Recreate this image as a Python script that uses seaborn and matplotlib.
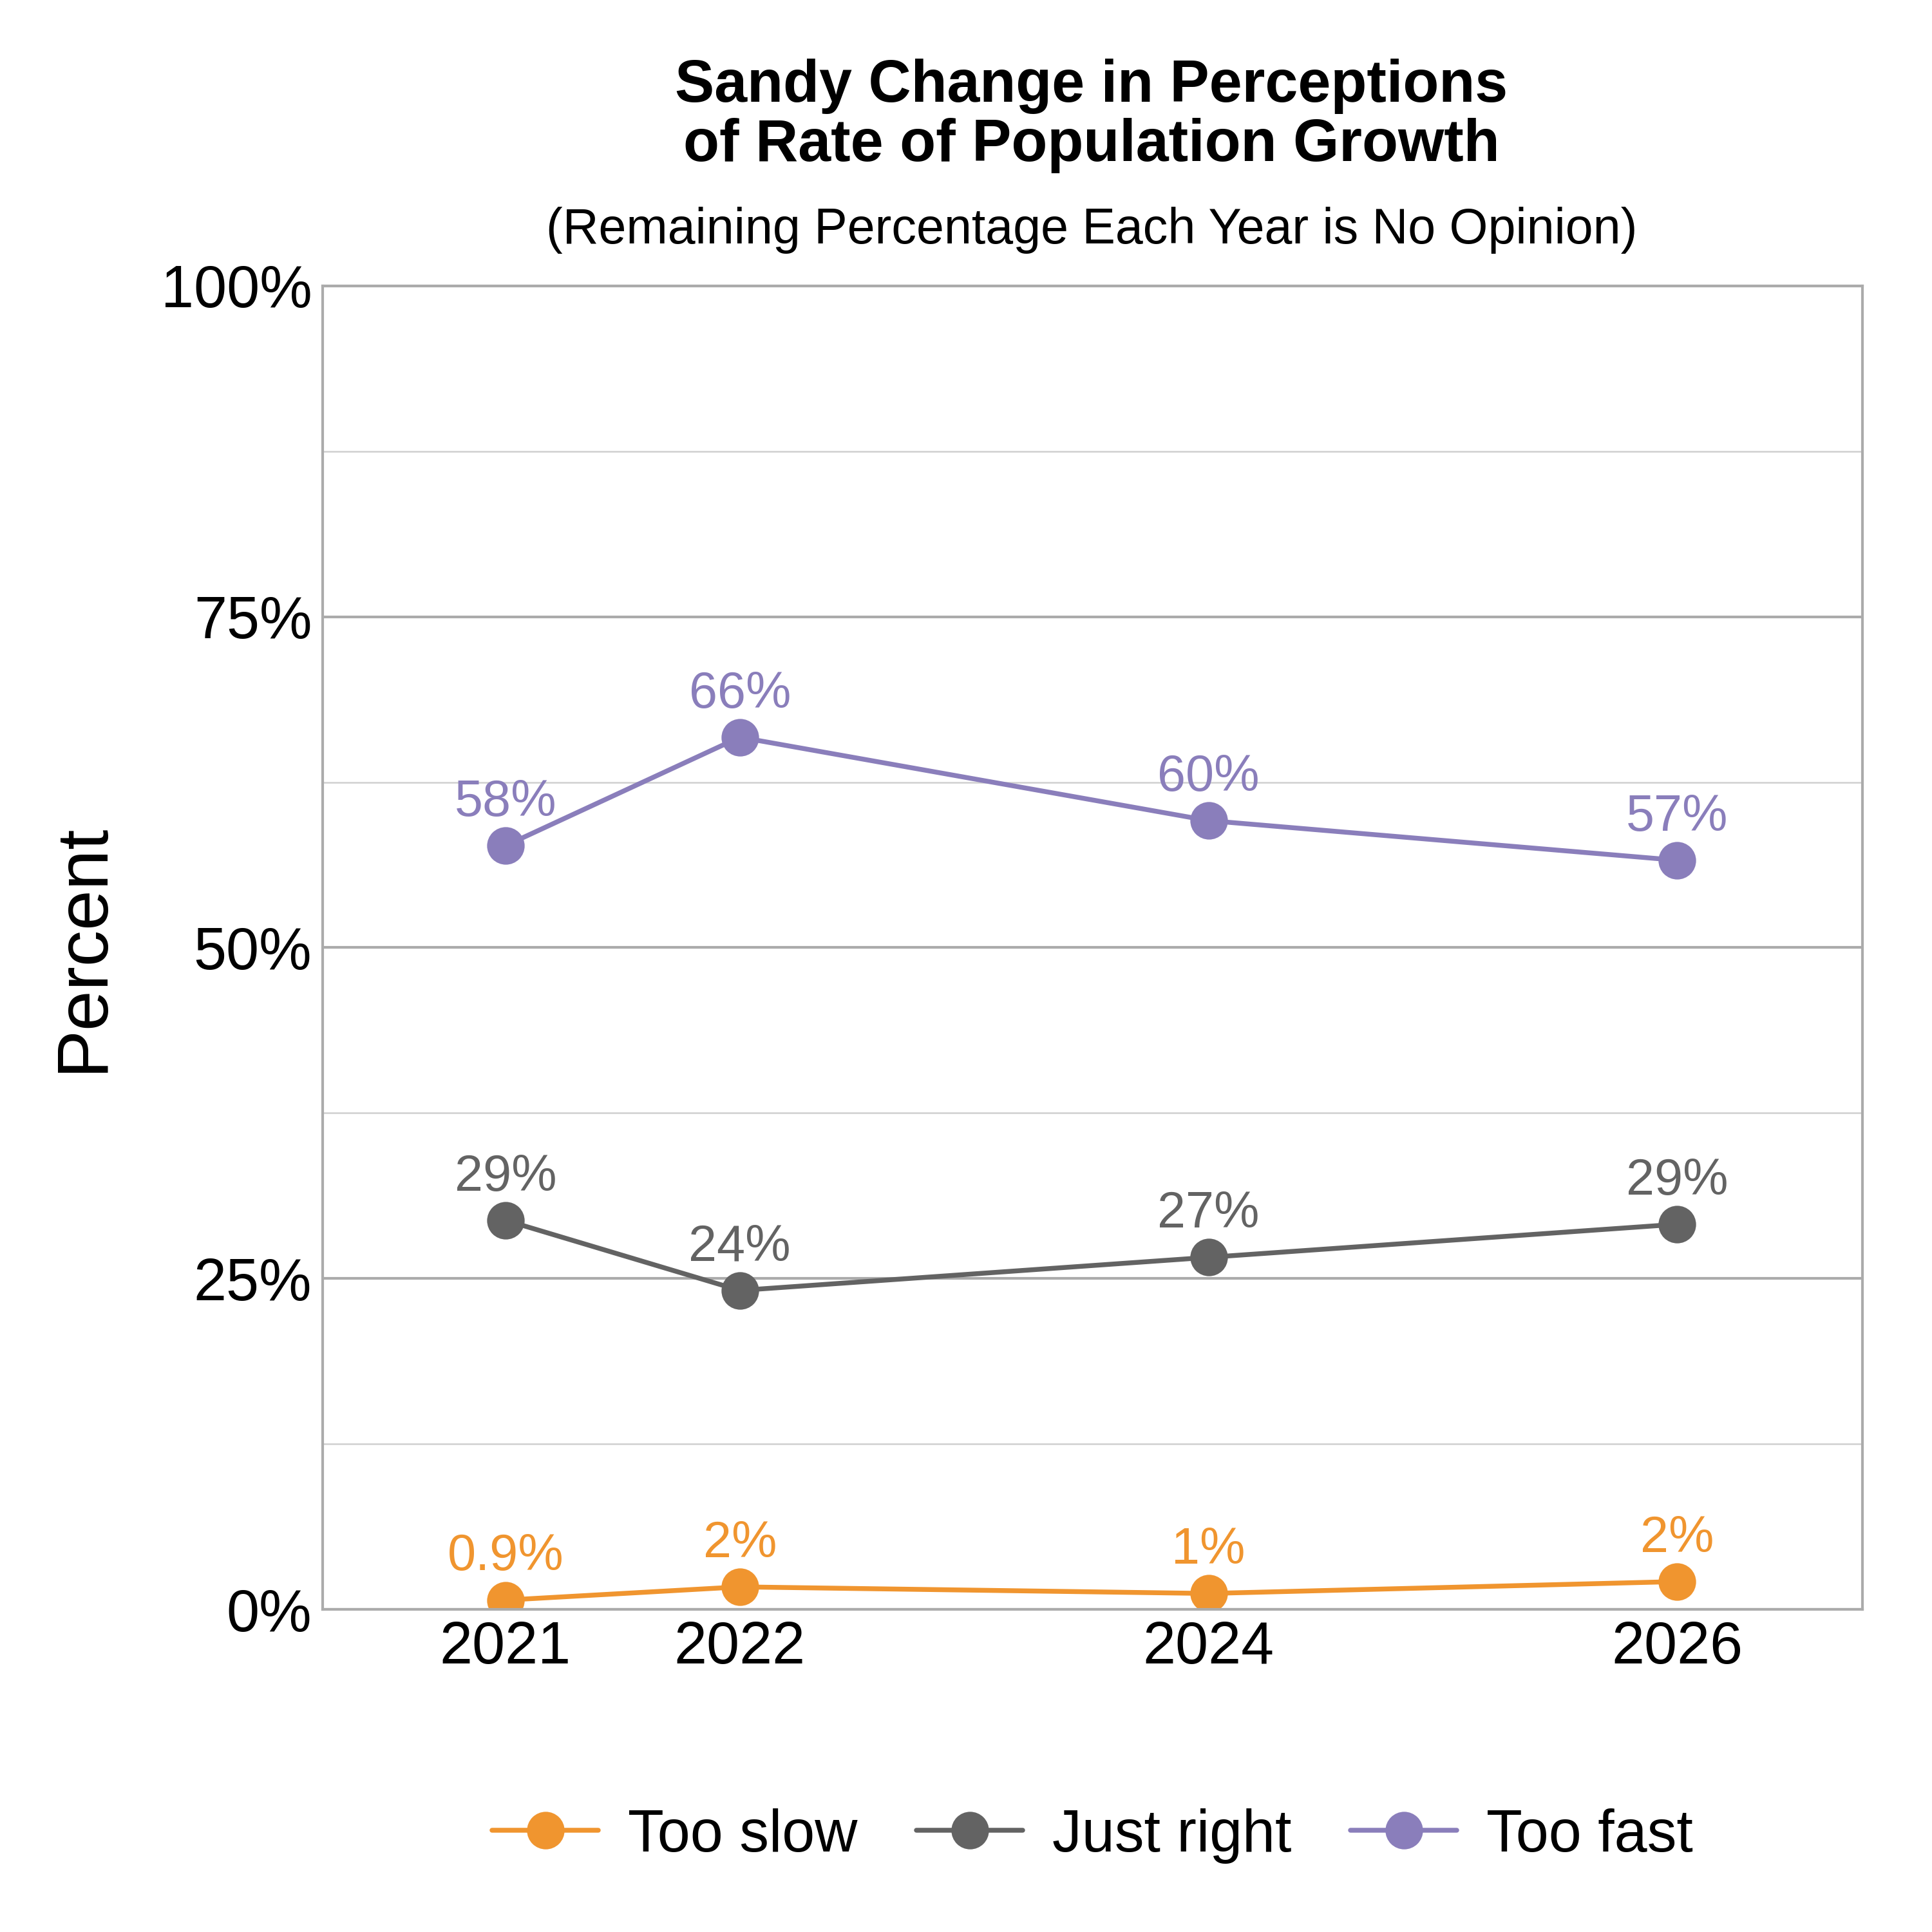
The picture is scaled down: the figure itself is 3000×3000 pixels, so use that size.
import matplotlib
matplotlib.use("Agg")
import matplotlib.pyplot as plt
import seaborn as sns
import pandas as pd
from matplotlib.ticker import MultipleLocator

# data
years = [2021, 2022, 2024, 2026]
too_slow = [0.7, 1.7, 1.2, 2.1]
just_right = [29.4, 24.1, 26.6, 29.1]
too_fast = [57.7, 65.9, 59.6, 56.6]
slow_labels = ["0.9%", "2%", "1%", "2%"]
right_labels = ["29%", "24%", "27%", "29%"]
fast_labels = ["58%", "66%", "60%", "57%"]

series = ["Too slow", "Just right", "Too fast"]
colors = {"Too slow": "#F0952F", "Just right": "#636363", "Too fast": "#8A7EBB"}

df = pd.DataFrame({
    "year": years * 3,
    "value": too_slow + just_right + too_fast,
    "label": slow_labels + right_labels + fast_labels,
    "group": [s for s in series for _ in years],
})

sns.set_style("white")
plt.rcParams["font.family"] = ["Liberation Sans", "DejaVu Sans"]
plt.rcParams["text.color"] = "black"
plt.rcParams["axes.labelcolor"] = "black"
plt.rcParams["xtick.color"] = "black"
plt.rcParams["ytick.color"] = "black"

fig = plt.figure(figsize=(10, 10), dpi=300)
ax = fig.add_axes([0.167, 0.167, 0.797, 0.685])

sns.lineplot(data=df, x="year", y="value", hue="group", palette=colors,
             marker="o", markersize=14, markeredgewidth=0, linewidth=1.8, ax=ax)

for _, r in df.iterrows():
    ax.annotate(r["label"], (r["year"], r["value"]), xytext=(0, 7),
                textcoords="offset points", ha="center", va="bottom",
                fontsize=19, color=colors[r["group"]])

ax.set_xlim(2020.22, 2026.79)
ax.set_ylim(0, 100)
ax.set_xticks(years)
ax.yaxis.set_major_locator(MultipleLocator(25))
ax.yaxis.set_minor_locator(MultipleLocator(12.5))
ax.set_yticklabels([f"{int(v)}%" for v in ax.get_yticks()])
ax.grid(which="major", axis="y", color="#ABABAB", linewidth=1.0)
ax.grid(which="minor", axis="y", color="#D0D0D0", linewidth=0.6)
ax.tick_params(axis="both", labelsize=22, length=0, pad=4)
for s in ax.spines.values():
    s.set_color("#ABABAB")
    s.set_linewidth(1.0)

ax.set_xlabel("")
ax.set_ylabel("Percent", fontsize=27, labelpad=16)

fig.text(0.565, 0.94, "Sandy Change in Perceptions\nof Rate of Population Growth",
         ha="center", va="center", fontsize=22, fontweight="bold", linespacing=1.1)
fig.text(0.565, 0.881, "(Remaining Percentage Each Year is No Opinion)",
         ha="center", va="center", fontsize=18.5)

handles, labels = ax.get_legend_handles_labels()
ax.legend(handles, labels, loc="upper center", bbox_to_anchor=(0.5, -0.11),
          ncol=3, frameon=False, fontsize=22, handlelength=1.8,
          columnspacing=1.0, handletextpad=0.5)

fig.savefig("out.png", dpi=300)
